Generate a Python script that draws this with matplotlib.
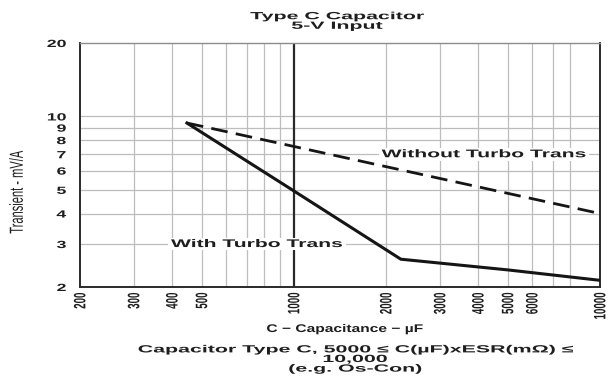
import numpy as np
import matplotlib
matplotlib.use("Agg")
import matplotlib.pyplot as plt
from matplotlib.ticker import FixedLocator, NullLocator, NullFormatter
from matplotlib.patheffects import AbstractPathEffect
from matplotlib.transforms import Affine2D

plt.rcParams['font.family'] = ['Liberation Sans', 'DejaVu Sans']

# capacitance (uF) vs load transient (mV/A)
cap_with = [447, 1000, 2235, 5000, 10000]
trans_with = [9.4, 4.95, 2.6, 2.35, 2.13]
cap_without = [447, 10000]
trans_without = [9.4, 4.0]

x_ticks = [200, 300, 400, 500, 1000, 2000, 3000, 4000, 5000, 6000, 10000]
x_grid = [300, 400, 500, 600, 700, 800, 900,
          2000, 3000, 4000, 5000, 6000, 7000, 8000]
y_ticks = [2, 3, 4, 5, 6, 7, 8, 9, 10, 20]
y_grid = [3, 4, 5, 6, 7, 8, 9, 10]

W, H = 616, 376


class Stretch(AbstractPathEffect):
    """Scale a drawn path about the middle (or right end) of its own extents."""

    def __init__(self, sx=1.0, sy=1.0, anchor='center'):
        super().__init__()
        self.sx, self.sy, self.anchor = sx, sy, anchor

    def draw_path(self, renderer, gc, tpath, affine, rgbFace=None):
        ext = tpath.get_extents()
        cx = ext.x1 if self.anchor == 'right' else 0.5 * (ext.x0 + ext.x1)
        cy = 0.5 * (ext.y0 + ext.y1)
        pre = Affine2D().translate(-cx, -cy).scale(self.sx, self.sy).translate(cx, cy)
        renderer.draw_path(gc, tpath, pre + affine, rgbFace)


def wide(txt, sx=1.9):
    txt.set_path_effects([Stretch(sx)])
    if txt.get_bbox_patch() is not None:
        txt.get_bbox_patch().set_path_effects([Stretch(sx)])
    return txt


fig = plt.figure(figsize=(W / 100, H / 100), dpi=100)
ax = fig.add_axes([80 / W, 1 - 287 / H, 520 / W, 244 / H])
ax.set_xscale('log')
ax.set_yscale('log')
ax.set_xlim(200, 10000)
ax.set_ylim(2, 20)

# light grid, heavier line at 1000 uF
for gx in x_grid:
    ax.axvline(gx, color='#bdbdbd', lw=0.9, zorder=0)
for gy in y_grid:
    ax.axhline(gy, color='#bdbdbd', lw=0.9, zorder=0)
ax.axvline(1000, color='#2a2a2a', lw=1.6, zorder=1)

ax.plot(cap_with, trans_with, color='#151515', lw=2.2, zorder=3,
        solid_joinstyle='miter')
ax.plot(cap_without, trans_without, color='#151515', lw=2.0,
        ls=(0, (6, 3)), zorder=3)

lbl = dict(fontsize=8, fontweight='bold', color='#1e1e1e', zorder=2,
           va='center', ha='center',
           bbox=dict(facecolor='white', edgecolor='none', pad=1.0))
wide(ax.text(757, 3.0, 'With Turbo Trans', **lbl))
wide(ax.text(4180, 7.0, 'Without Turbo Trans', **lbl))

ax.xaxis.set_major_locator(FixedLocator(x_ticks))
ax.xaxis.set_minor_locator(NullLocator())
ax.xaxis.set_minor_formatter(NullFormatter())
ax.set_xticklabels([str(v) for v in x_ticks], rotation=90,
                   fontsize=7, fontweight='bold', color='#1e1e1e')
ax.yaxis.set_major_locator(FixedLocator(y_ticks))
ax.yaxis.set_minor_locator(NullLocator())
ax.yaxis.set_minor_formatter(NullFormatter())
ax.set_yticklabels([str(v) for v in y_ticks], fontsize=7.5,
                   fontweight='bold', color='#1e1e1e')
ax.tick_params(axis='x', length=0, pad=4)
ax.tick_params(axis='y', length=0, pad=10)
for t in ax.get_xticklabels():
    t.set_path_effects([Stretch(sy=1.7)])
for t in ax.get_yticklabels():
    t.set_path_effects([Stretch(sx=1.7, anchor='right')])

for side in ['left', 'right', 'bottom']:
    ax.spines[side].set_color('#2a2a2a')
    ax.spines[side].set_linewidth(1.4)
ax.spines['top'].set_color('#8c8c8c')
ax.spines['top'].set_linewidth(1.0)

ax.set_ylabel('Transient - mV/A', fontsize=8, color='#1e1e1e')
ax.yaxis.set_label_coords((22 - 80) / 520, (287 - 192) / 244)
ax.yaxis.label.set_path_effects([Stretch(sy=1.7)])

ax.set_xlabel('C \u2212 Capacitance \u2212 \u00b5F', fontsize=8,
              fontweight='bold', color='#1e1e1e', va='center')
ax.xaxis.set_label_coords((345 - 80) / 520, (287 - 329) / 244)
ax.xaxis.label.set_path_effects([Stretch(sx=1.4)])

wide(fig.text(337 / W, 1 - 21 / H, 'Type C Capacitor\n5-V Input',
              ha='center', va='center', fontsize=7.5, fontweight='bold',
              color='#1e1e1e', linespacing=0.95), sx=2.05)
wide(fig.text(355 / W, 1 - 359 / H,
              'Capacitor Type C, 5000 \u2264 C(\u00b5F)xESR(m\u03a9) \u2264\n10,000\n(e.g. Os-Con)',
              ha='center', va='center', fontsize=7.5, fontweight='bold',
              color='#1e1e1e', linespacing=0.95), sx=2.05)

fig.savefig('out.png', dpi=100)
